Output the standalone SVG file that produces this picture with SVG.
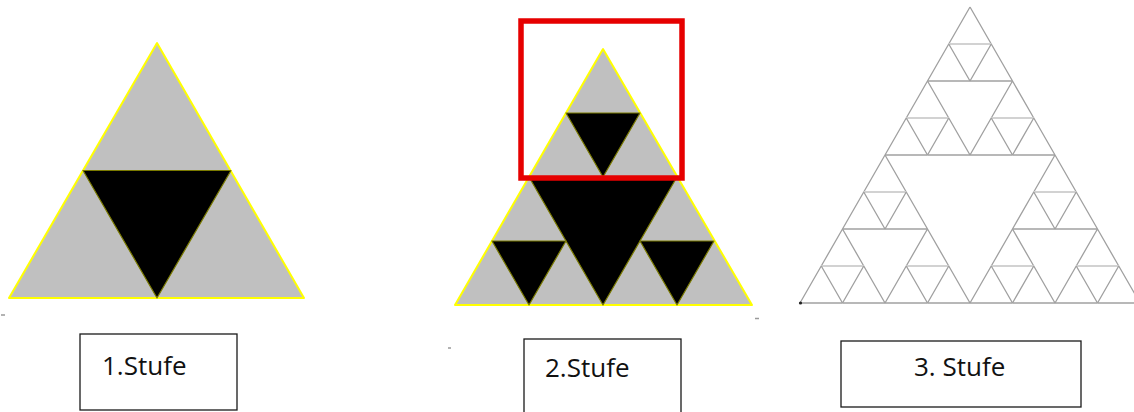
<svg xmlns="http://www.w3.org/2000/svg" xmlns:xlink="http://www.w3.org/1999/xlink" width="1134" height="412" viewBox="0 0 1134 412">
<style>
.g{fill:#c0c0c0;stroke:#ffff00;stroke-width:2;stroke-linejoin:round}
.b{fill:#000;stroke:#7a7a00;stroke-width:1.2;stroke-linejoin:round}
.s{fill:none;stroke:#a0a0a0;stroke-width:1.3}
.l{fill:none;stroke:#d2d2d2;stroke-width:2}
.box{fill:#fff;stroke:#1a1a1a;stroke-width:1.3}
.t{font-family:"Open Sans","Liberation Sans",sans-serif;font-size:26px;fill:#111}
.m{stroke:#9a9a9a;stroke-width:1.5}
</style>
<defs>
<path id="sd" d="M0,0 L-21.25,37 M0,0 L21.25,37" class="s"/>
<path id="bd" d="M-21.25,37 H21.25" class="s"/>
<path id="bl" d="M-21.25,37 H21.25" class="l"/>
<g id="t1">
<use href="#sd"/><use href="#bl"/>
<use href="#sd" x="-21.25" y="37"/><use href="#bd" x="-21.25" y="37"/>
<use href="#sd" x="21.25" y="37"/><use href="#bd" x="21.25" y="37"/>
</g>
<g id="t2"><use href="#t1"/><use href="#t1" x="-42.5" y="74"/><use href="#t1" x="42.5" y="74"/></g>
<g id="t3"><use href="#t2"/><use href="#t2" x="-85" y="148"/><use href="#t2" x="85" y="148"/></g>
</defs>
<rect width="1134" height="412" fill="#fff"/>

<g id="stage1">
<polygon class="g" points="157,43 9,298 304,298"/>
<polygon class="b" points="83,170.5 231,170.5 157,298"/>
</g>

<g id="stage2">
<polygon class="g" points="603,49 455,305 752,305"/>
<polygon class="b" points="529,177 677,177 603,305"/>
<polygon class="b" points="566,113 640,113 603,177"/>
<polygon class="b" points="492,241 566,241 529,305"/>
<polygon class="b" points="640,241 714,241 677,305"/>
<rect x="521" y="21" width="161" height="157" fill="none" stroke="#e60000" stroke-width="5.5"/>
</g>

<g id="stage3">
<use href="#t3" x="970" y="7"/>
<circle cx="800.5" cy="303" r="1.6" fill="#222"/>
</g>

<g id="marks">
<line class="m" x1="1" y1="315" x2="5" y2="315"/>
<line class="m" x1="755" y1="318.5" x2="759" y2="318.5"/>
<line class="m" x1="448" y1="348" x2="451" y2="348"/>
</g>

<g id="label1">
<rect class="box" x="80" y="334" width="157" height="76"/>
<text class="t" x="102" y="375">1.Stufe</text>
</g>
<g id="label2">
<rect class="box" x="524" y="339" width="157" height="80"/>
<text class="t" x="545" y="377">2.Stufe</text>
</g>
<g id="label3">
<rect class="box" x="841" y="341" width="240" height="66"/>
<text class="t" x="914" y="376">3. Stufe</text>
</g>
</svg>
